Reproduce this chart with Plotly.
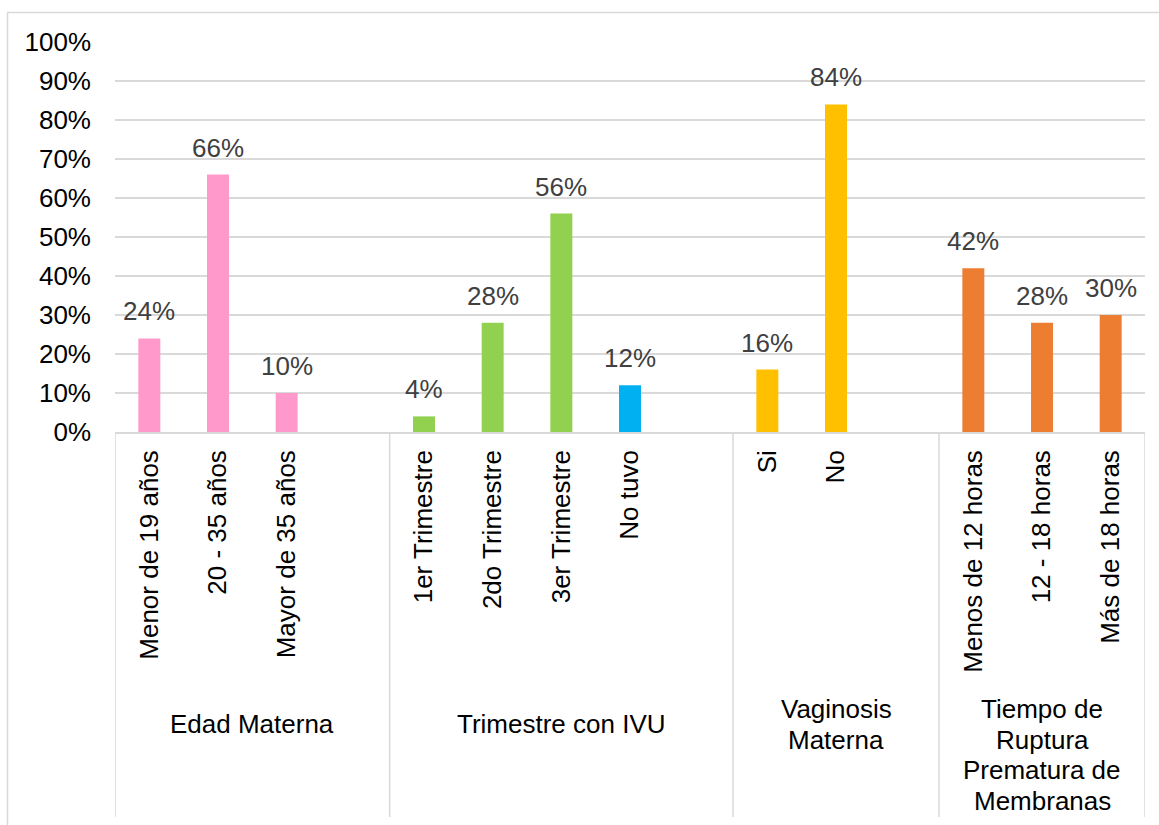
import plotly.graph_objects as go

# Percentages by factor group
edad_labels = ["Menor de 19 años", "20 - 35 años", "Mayor de 35 años"]
edad_values = [24, 66, 10]

trimestre_labels = ["1er Trimestre", "2do Trimestre", "3er Trimestre", "No tuvo"]
trimestre_values = [4, 28, 56, 12]

vaginosis_labels = ["Si", "No"]
vaginosis_values = [16, 84]

ruptura_labels = ["Menos de 12 horas", "12 - 18 horas", "Más de 18 horas"]
ruptura_values = [42, 28, 30]

group_titles = [
    ["Edad Materna"],
    ["Trimestre con IVU"],
    ["Vaginosis", "Materna"],
    ["Tiempo de", "Ruptura", "Prematura de", "Membranas"],
]

PINK = "#FF99CC"
GREEN = "#92D050"
BLUE = "#00B0F0"
YELLOW = "#FFC000"
ORANGE = "#ED7D31"
GRID = "#D9D9D9"
FONT = "Liberation Sans, Arial, sans-serif"
FS = 26

groups = [
    (edad_labels, edad_values, [PINK, PINK, PINK]),
    (trimestre_labels, trimestre_values, [GREEN, GREEN, GREEN, BLUE]),
    (vaginosis_labels, vaginosis_values, [YELLOW, YELLOW]),
    (ruptura_labels, ruptura_values, [ORANGE, ORANGE, ORANGE]),
]

# Lay out category slots: each group is followed by one empty slot, except the last
xs, ys, cols, names = [], [], [], []
bounds = [-0.5]
spans = []
pos = 0
for gi, (labs, vals, cs) in enumerate(groups):
    start = pos - 0.5
    for lab, v, c in zip(labs, vals, cs):
        xs.append(pos)
        ys.append(v / 100)
        cols.append(c)
        names.append(lab)
        pos += 1
    if gi < len(groups) - 1:
        pos += 1
    end = pos - 0.5
    bounds.append(end)
    spans.append((start, end))

fig = go.Figure()
fig.add_trace(go.Bar(
    x=xs, y=ys, marker=dict(color=cols, line=dict(width=0)),
    width=0.32, hoverinfo="skip",
))

# Value labels above bars
for x, y in zip(xs, ys):
    fig.add_annotation(
        x=x, y=y, xref="x", yref="y", text=f"{round(y * 100)}%",
        showarrow=False, yanchor="middle", yshift=27,
        font=dict(family=FONT, size=FS, color="#404040"),
    )

# Plot geometry in pixels (for paper-coordinate conversions)
W, H = 1159, 825
ML, MR, MT, MB = 115, 14, 42, 393
plot_h = H - MT - MB
axis_px = H - MB


def py2paper(py):
    return (axis_px - py) / plot_h


def px2paper(px):
    return (px - ML) / (W - ML - MR)


# Group separators below the axis
sep_bottom = py2paper(817)
for b in bounds:
    fig.add_shape(type="line", xref="x", yref="paper", x0=b, x1=b,
                  y0=0, y1=sep_bottom, line=dict(color=GRID, width=1.5))

# Group titles
pitch = 30.5
center_py = 724
top_limit = 709
for (s, e), lines in zip(spans, group_titles):
    n = len(lines)
    first = max(center_py - (n - 1) * pitch / 2, top_limit)
    for k, line in enumerate(lines):
        fig.add_annotation(
            x=(s + e) / 2, y=py2paper(first + k * pitch), xref="x", yref="paper",
            text=line, showarrow=False, yanchor="middle", xanchor="center",
            font=dict(family=FONT, size=FS, color="#000000"),
        )

# Chart border
fig.add_shape(type="rect", xref="paper", yref="paper",
              x0=px2paper(7.5), x1=px2paper(1170), y0=py2paper(12.5), y1=py2paper(840),
              line=dict(color=GRID, width=1.5), layer="below")

fig.update_layout(
    width=W, height=H,
    margin=dict(l=ML, r=MR, t=MT, b=MB, pad=0),
    plot_bgcolor="white", paper_bgcolor="white",
    showlegend=False,
    font=dict(family=FONT, size=FS, color="#000000"),
    xaxis=dict(
        range=[-0.5, pos - 0.5], tickmode="array", tickvals=xs, ticktext=names,
        tickangle=-90, showgrid=False, zeroline=False,
        showline=True, linecolor=GRID, linewidth=1.5,
        ticks="", ticklabelstandoff=6,
        tickfont=dict(family=FONT, size=FS, color="#000000"),
        fixedrange=True,
    ),
    yaxis=dict(
        range=[0, 1], tickmode="array",
        tickvals=[i / 10 for i in range(11)],
        ticktext=[f"{i * 10}%" for i in range(11)],
        showgrid=True, gridcolor=GRID, gridwidth=1.5,
        zeroline=False, showline=False, ticks="",
        ticklabelstandoff=23,
        tickfont=dict(family=FONT, size=FS, color="#000000"),
        fixedrange=True,
    ),
)

fig.write_html("out.html")
